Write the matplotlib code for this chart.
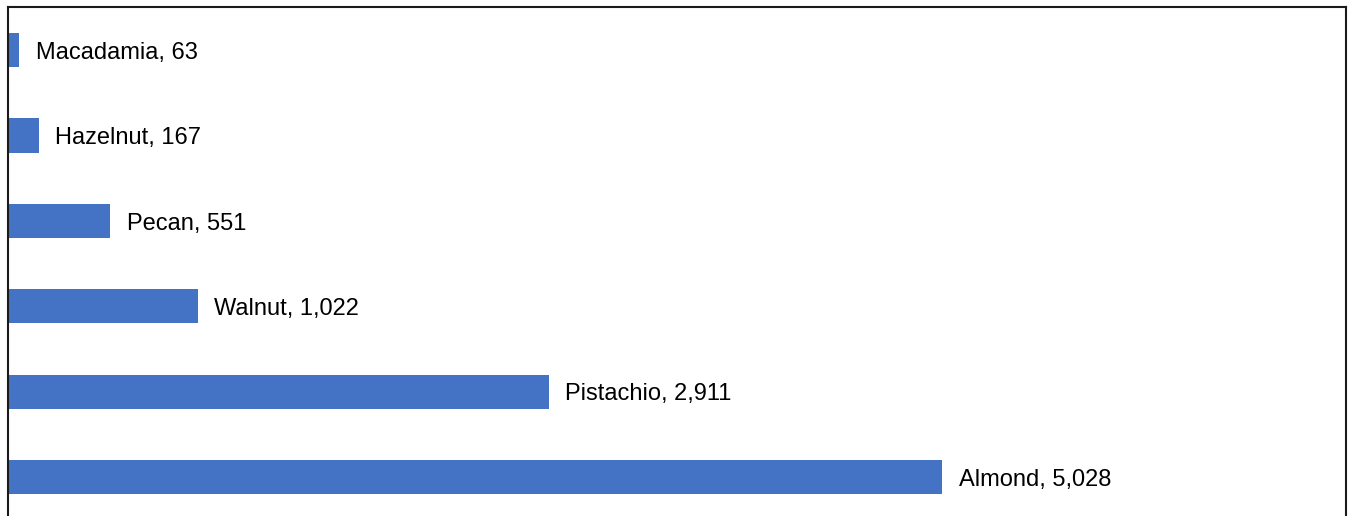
import matplotlib

matplotlib.use("Agg")
import matplotlib.pyplot as plt

nuts = ["Almond", "Pistachio", "Walnut", "Pecan", "Hazelnut", "Macadamia"]
values = [5028, 2911, 1022, 551, 167, 63]

W, H = 1349, 516
fig = plt.figure(figsize=(W / 100, H / 100), dpi=100)
ax = fig.add_axes([7.5 / W, 0, (1346 - 7.5) / W, (H - 6.5) / H])

y = range(len(nuts))
ax.barh(y, values, height=0.4, color="#4472C4")
for yi, name, v in zip(y, nuts, values):
    ax.annotate(f"{name}, {v:,}", (v, yi), xytext=(12, -2), textcoords="offset points",
                va="center", ha="left", fontsize=17, family="Liberation Sans")

ax.set_xlim(0, 7198)
ax.set_ylim(-0.457, 5.51)
ax.set_xticks([])
ax.set_yticks([])
ax.spines["bottom"].set_visible(False)
for s in ("top", "left", "right"):
    ax.spines[s].set_linewidth(1.5)
    ax.spines[s].set_color("#1a1a1a")

fig.savefig("out.png", dpi=100)
